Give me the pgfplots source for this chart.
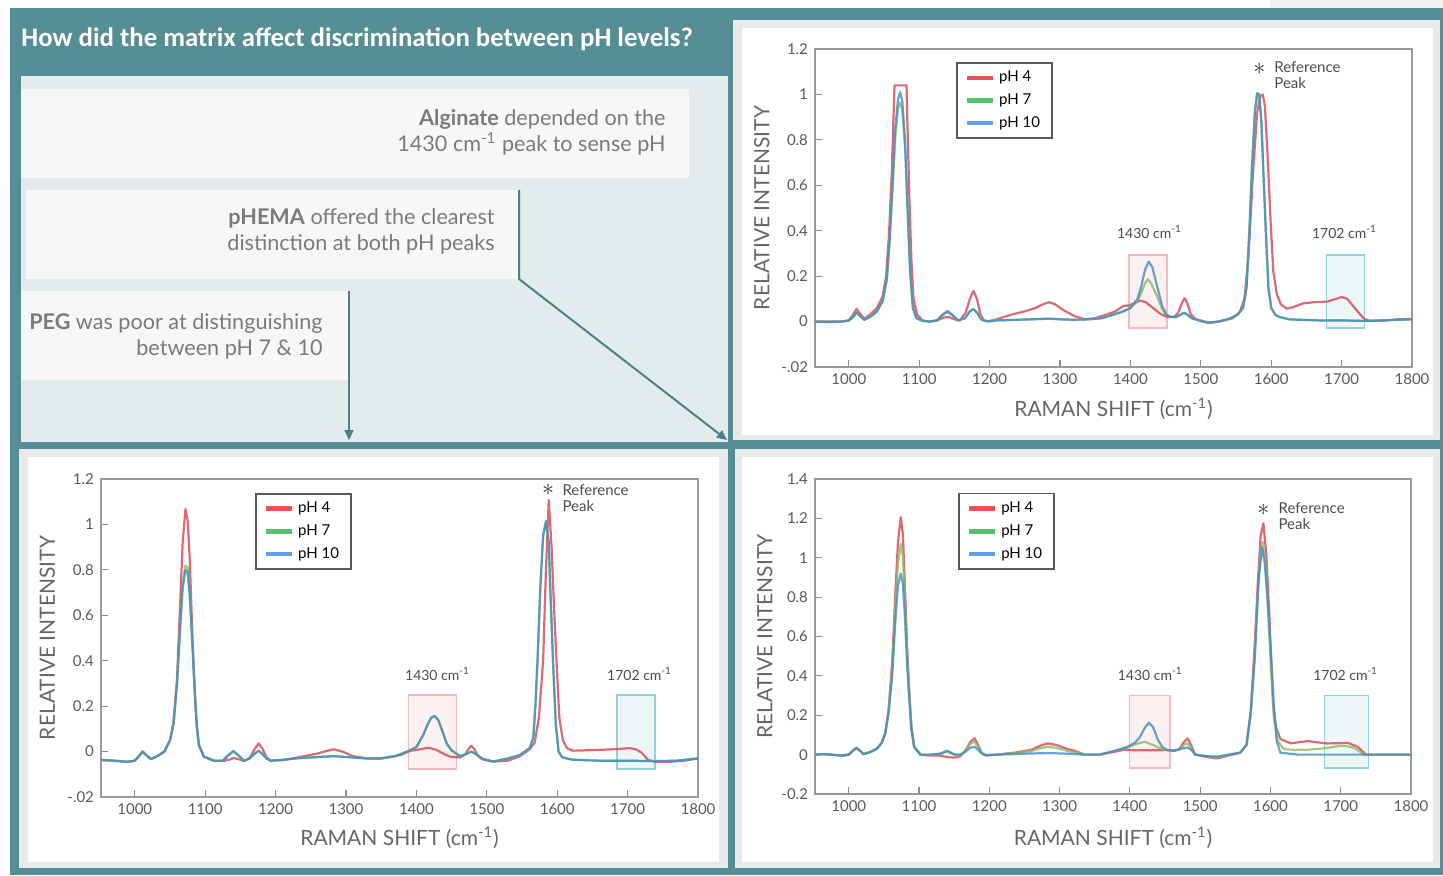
\documentclass[border=0pt]{standalone}
\usepackage{fontspec}
\setmainfont{Lato}
\newfontfamily\titlefont{Carlito}
\usepackage{pgfplots}
\pgfplotsset{compat=1.18}
\usetikzlibrary{arrows.meta}

\definecolor{teal0}{HTML}{568E96}
\definecolor{panelgray}{HTML}{E3EBEC}
\definecolor{boxwhite}{HTML}{F6F8F8}
\definecolor{frame0}{HTML}{E8E9E9}
\definecolor{txtgray}{HTML}{7A7A7A}
\definecolor{lgred}{HTML}{E52528}
\definecolor{lggreen}{HTML}{2DB34A}
\definecolor{lgblue}{HTML}{3B87E0}
\definecolor{plred}{HTML}{D9444E}
\definecolor{plgreen}{HTML}{8DBB5E}
\definecolor{plblue}{HTML}{3F8DCC}
\definecolor{pinkfill}{HTML}{FCF0F1}
\definecolor{pinkline}{HTML}{F4B9BF}
\definecolor{cyanfill}{HTML}{EEF6F7}
\definecolor{cyanline}{HTML}{8DD3DA}

\tikzset{anno/.style={font=\fontsize{7}{8}\selectfont, text=black!70}}

\pgfplotsset{
  ramanaxis/.style={
    scale only axis,
    xmin=952, xmax=1800,
    xtick={1000,1100,1200,1300,1400,1500,1600,1700,1800},
    xticklabels={1000,1100,1200,1300,1400,1500,1600,1700,1800},
    xtick pos=left, ytick pos=left,
    tick align=inside,
    major tick length=3.5pt,
    tick style={color=black!45, line width=0.6pt},
    axis line style={draw=black!40, line width=0.6pt},
    ticklabel style={font=\fontsize{7.5}{9}\selectfont, text=black!65},
    label style={font=\fontsize{10.5}{12}\selectfont, text=black!60},
    xlabel={RAMAN SHIFT (cm\textsuperscript{-1})},
    ylabel={RELATIVE INTENSITY},
    legend cell align=left,
    legend style={draw=black!65, line width=0.8pt, font=\fontsize{7.5}{9}\selectfont,
      inner xsep=4pt, inner ysep=2pt, row sep=0.5pt, anchor=north west},
    legend image code/.code={\draw[#1] (0pt,0pt) -- (13pt,0pt);},
    every axis plot/.append style={line width=1.1pt, opacity=0.8, line join=round},
  },
}

\begin{document}
\begin{tikzpicture}
\begin{scope}[x=0.5pt, y=-0.5pt]
  \useasboundingbox (0,0) rectangle (1443,875);
  \fill[white] (0,0) rectangle (1443,875);
  \fill[black!5] (1270,0) rectangle (1443,8);
  \fill[teal0] (10,8) rectangle (1443,875);
  \node[anchor=west, text=white, inner sep=0pt, font=\titlefont\bfseries\fontsize{13.4}{15}\selectfont]
    at (21,39) {How did the matrix affect discrimination between pH levels?};
  \fill[panelgray] (21,76) rectangle (728,442);
  \fill[boxwhite] (21,89) rectangle (689,178);
  \fill[boxwhite] (26,190) rectangle (519,279);
  \fill[boxwhite] (21,291) rectangle (349,380);
  \node[anchor=east, align=right, inner sep=0pt, text=txtgray, font=\fontsize{10.8}{13}\selectfont]
    at (666,132) {\textbf{Alginate} depended on the\\1430 cm\textsuperscript{-1} peak to sense pH};
  \node[anchor=east, align=right, inner sep=0pt, text=txtgray, font=\fontsize{10.8}{13}\selectfont]
    at (495,231) {\textbf{pHEMA} offered the clearest\\distinction at both pH peaks};
  \node[anchor=east, align=right, inner sep=0pt, text=txtgray, font=\fontsize{10.8}{13}\selectfont]
    at (323,336) {\textbf{PEG} was poor at distinguishing\\between pH~7 \& 10};
  \draw[teal0!90!black, line width=1pt, -{Triangle[length=5pt,width=4.5pt]}]
    (519,190) -- (519,279) -- (727,440);
  \draw[teal0!90!black, line width=1pt, -{Triangle[length=5pt,width=4.5pt]}]
    (349,291) -- (349,440);
  % chart panels
  \fill[frame0] (733,20) rectangle (1440,440);
  \fill[white] (742,28) rectangle (1433,435);
  \fill[frame0] (19,449) rectangle (728,868);
  \fill[white] (28,457) rectangle (719,862);
  \fill[frame0] (735,449) rectangle (1440,868);
  \fill[white] (742,457) rectangle (1433,862);
\end{scope}

% ---------- top right: alginate ----------
\begin{axis}[ramanaxis,
  at={(407.5pt,-183.5pt)}, anchor=south west,
  width=298.5pt, height=159pt,
  ymin=-0.2, ymax=1.2,
  ytick={-0.2,0,0.2,0.4,0.6,0.8,1,1.2},
  yticklabels={-.02,0,0.2,0.4,0.6,0.8,1,1.2},
  x label style={at={(axis description cs:0.5,-0.132)}, anchor=center},
  y label style={at={(axis description cs:-0.089,0.5)}, anchor=center, rotate=0},
  legend style={at={(axis description cs:0.236,0.959)}},
]
\fill[pinkfill, draw=pinkline, line width=0.6pt] (axis cs:1398,-0.028) rectangle (axis cs:1452,0.293);
\fill[cyanfill, draw=cyanline, line width=0.6pt] (axis cs:1678,-0.028) rectangle (axis cs:1733,0.293);
\addlegendimage{line width=2.2pt, color=lgred}\addlegendentry{pH 4}
\addlegendimage{line width=2.2pt, color=lggreen}\addlegendentry{pH 7}
\addlegendimage{line width=2.2pt, color=lgblue}\addlegendentry{pH 10}
\addplot[plred, forget plot] coordinates {
(952,0.0) (970,0.0) (990,0.0) (1000,0.005) (1006,0.03) (1011,0.056) (1016,0.035) (1022,0.012)
(1030,0.03) (1040,0.06) (1048,0.11) (1053,0.2) (1057,0.38) (1061,0.65) (1064,0.95) (1065,1.04)
(1082,1.04) (1083,0.9) (1086,0.55) (1089,0.26) (1092,0.1) (1097,0.03) (1105,0.005) (1115,0.0)
(1125,0.005) (1135,0.018) (1142,0.02) (1150,0.01) (1158,0.005) (1166,0.04) (1172,0.1) (1177,0.135)
(1182,0.1) (1187,0.03) (1192,0.005) (1200,0.0) (1215,0.015) (1230,0.03) (1250,0.045) (1265,0.06)
(1275,0.075) (1284,0.085) (1292,0.078) (1305,0.05) (1320,0.025) (1335,0.01) (1350,0.015) (1365,0.03)
(1378,0.044) (1390,0.069) (1397,0.07) (1405,0.08) (1414,0.092) (1422,0.085) (1432,0.06) (1442,0.035)
(1452,0.02) (1462,0.02) (1468,0.04) (1473,0.08) (1477,0.103) (1481,0.08) (1486,0.03) (1492,0.012)
(1505,0.0) (1515,-0.005) (1530,0.003) (1545,0.015) (1555,0.04) (1562,0.1) (1568,0.3) (1574,0.65)
(1580,0.92) (1584,0.99) (1588,1.0) (1591,0.95) (1595,0.72) (1599,0.45) (1603,0.22) (1608,0.12)
(1614,0.075) (1622,0.057) (1632,0.064) (1645,0.08) (1660,0.085) (1680,0.088) (1692,0.1) (1700,0.108)
(1708,0.1) (1716,0.07) (1724,0.04) (1732,0.012) (1740,0.003) (1760,0.005) (1780,0.01) (1800,0.012)
};
\addplot[plgreen, forget plot] coordinates {
(952,0.0) (970,-0.002) (990,0.0) (1000,0.005) (1006,0.02) (1011,0.04) (1016,0.025) (1022,0.008)
(1030,0.02) (1040,0.045) (1048,0.09) (1054,0.18) (1058,0.35) (1062,0.57) (1066,0.81) (1070,0.94)
(1073,0.965) (1076,0.93) (1080,0.76) (1084,0.44) (1087,0.22) (1091,0.06) (1096,0.015) (1105,0.003)
(1115,0.0) (1125,0.005) (1133,0.028) (1140,0.042) (1147,0.028) (1155,0.005) (1165,0.015) (1172,0.045)
(1177,0.055) (1182,0.04) (1188,0.01) (1195,0.002) (1210,0.005) (1240,0.008) (1270,0.011) (1285,0.013)
(1300,0.01) (1320,0.008) (1340,0.01) (1360,0.015) (1375,0.03) (1390,0.045) (1400,0.06) (1410,0.09)
(1416,0.13) (1421,0.17) (1425,0.186) (1430,0.165) (1438,0.11) (1445,0.055) (1451,0.028) (1458,0.02)
(1465,0.02) (1471,0.03) (1476,0.039) (1481,0.03) (1487,0.015) (1497,0.005) (1510,-0.005) (1525,0.0)
(1540,0.012) (1552,0.03) (1560,0.06) (1565,0.15) (1569,0.4) (1573,0.7) (1577,0.93) (1580,1.005)
(1583,1.0) (1586,0.88) (1589,0.65) (1592,0.42) (1596,0.15) (1600,0.06) (1606,0.03) (1612,0.02)
(1625,0.01) (1640,0.008) (1670,0.005) (1700,0.006) (1730,0.003) (1760,0.005) (1780,0.008) (1800,0.01)
};
\addplot[plblue, forget plot] coordinates {
(952,0.0) (970,-0.002) (990,0.0) (1000,0.005) (1006,0.02) (1011,0.04) (1016,0.025) (1022,0.008)
(1030,0.02) (1040,0.045) (1048,0.09) (1054,0.19) (1058,0.36) (1062,0.6) (1066,0.85) (1070,0.98)
(1073,1.01) (1076,0.97) (1080,0.79) (1084,0.46) (1087,0.23) (1091,0.06) (1096,0.015) (1105,0.003)
(1115,0.0) (1125,0.005) (1133,0.03) (1140,0.047) (1147,0.03) (1155,0.005) (1165,0.015) (1172,0.045)
(1177,0.055) (1182,0.04) (1188,0.01) (1195,0.002) (1210,0.005) (1240,0.008) (1270,0.011) (1285,0.013)
(1300,0.01) (1320,0.008) (1340,0.01) (1360,0.015) (1375,0.03) (1390,0.045) (1400,0.06) (1410,0.1)
(1415,0.15) (1421,0.23) (1426,0.264) (1431,0.24) (1438,0.155) (1445,0.07) (1451,0.03) (1458,0.02)
(1465,0.02) (1471,0.03) (1476,0.039) (1481,0.03) (1487,0.015) (1497,0.005) (1510,-0.005) (1525,0.0)
(1540,0.012) (1552,0.03) (1560,0.06) (1565,0.15) (1569,0.4) (1573,0.7) (1577,0.93) (1580,1.005)
(1583,1.0) (1586,0.88) (1589,0.65) (1592,0.42) (1596,0.15) (1600,0.06) (1606,0.03) (1612,0.02)
(1625,0.01) (1640,0.008) (1670,0.005) (1700,0.005) (1730,0.003) (1760,0.005) (1780,0.008) (1800,0.01)
};
\node[anno] at (axis cs:1427,0.395) {1430 cm\textsuperscript{-1}};
\node[anno] at (axis cs:1704,0.395) {1702 cm\textsuperscript{-1}};
\node[inner sep=0pt, text=black!80, font=\fontsize{12}{12}\selectfont] at (axis cs:1583,1.112) {$\ast$};
\node[anno, anchor=north west, align=left, inner sep=0pt, font=\fontsize{7.5}{8}\selectfont]
  at (axis cs:1604,1.148) {Reference\\Peak};
\end{axis}

% ---------- bottom left: PEG ----------
\begin{axis}[ramanaxis,
  at={(50.5pt,-398.5pt)}, anchor=south west,
  width=298.5pt, height=159pt,
  ymin=-0.2, ymax=1.2,
  ytick={-0.2,0,0.2,0.4,0.6,0.8,1,1.2},
  yticklabels={-.02,0,0.2,0.4,0.6,0.8,1,1.2},
  x label style={at={(axis description cs:0.5,-0.129)}, anchor=center},
  y label style={at={(axis description cs:-0.09,0.5)}, anchor=center, rotate=0},
  legend style={at={(axis description cs:0.258,0.956)}},
]
\fill[pinkfill, draw=pinkline, line width=0.6pt] (axis cs:1389,-0.077) rectangle (axis cs:1457,0.249);
\fill[cyanfill, draw=cyanline, line width=0.6pt] (axis cs:1685,-0.077) rectangle (axis cs:1739,0.249);
\addlegendimage{line width=2.2pt, color=lgred}\addlegendentry{pH 4}
\addlegendimage{line width=2.2pt, color=lggreen}\addlegendentry{pH 7}
\addlegendimage{line width=2.2pt, color=lgblue}\addlegendentry{pH 10}
\addplot[plred, forget plot] coordinates {
(952,-0.037) (970,-0.04) (990,-0.045) (1000,-0.04) (1006,-0.02) (1011,0.0) (1016,-0.015) (1023,-0.033)
(1032,-0.02) (1042,0.0) (1050,0.05) (1055,0.13) (1060,0.32) (1064,0.62) (1068,0.92) (1072,1.068)
(1075,1.02) (1078,0.85) (1082,0.5) (1085,0.28) (1088,0.12) (1091,0.03) (1098,-0.022) (1112,-0.04)
(1125,-0.042) (1135,-0.035) (1140,-0.028) (1147,-0.033) (1155,-0.042) (1163,-0.03) (1170,0.01) (1176,0.036)
(1181,0.015) (1187,-0.025) (1193,-0.04) (1210,-0.038) (1236,-0.023) (1260,-0.008) (1275,0.005) (1283,0.01)
(1295,0.0) (1310,-0.02) (1330,-0.03) (1350,-0.03) (1378,-0.015) (1392,0.004) (1405,0.01) (1417,0.017)
(1428,0.008) (1440,-0.012) (1448,-0.022) (1462,-0.026) (1470,-0.01) (1474,0.012) (1478,0.025) (1482,0.012)
(1487,-0.015) (1495,-0.035) (1509,-0.044) (1530,-0.04) (1547,-0.02) (1561,0.01) (1568,0.04) (1574,0.15)
(1580,0.4) (1584,0.8) (1588,1.108) (1592,0.9) (1596,0.6) (1599,0.4) (1603,0.15) (1608,0.05)
(1614,0.015) (1622,0.004) (1646,0.006) (1679,0.01) (1703,0.015) (1712,0.01) (1720,-0.005) (1729,-0.037)
(1740,-0.045) (1760,-0.045) (1780,-0.04) (1800,-0.03)
};
\addplot[plgreen, forget plot] coordinates {
(952,-0.037) (970,-0.04) (990,-0.045) (1000,-0.04) (1006,-0.02) (1011,0.0) (1016,-0.015) (1023,-0.033)
(1032,-0.02) (1042,0.0) (1050,0.05) (1055,0.12) (1060,0.3) (1064,0.53) (1068,0.74) (1072,0.82)
(1075,0.81) (1078,0.7) (1082,0.46) (1085,0.27) (1088,0.11) (1091,0.03) (1098,-0.022) (1112,-0.04)
(1125,-0.04) (1133,-0.017) (1140,0.0) (1147,-0.017) (1155,-0.04) (1163,-0.03) (1170,-0.01) (1176,0.004)
(1181,-0.01) (1187,-0.03) (1193,-0.04) (1210,-0.036) (1236,-0.028) (1260,-0.024) (1283,-0.02) (1310,-0.026)
(1330,-0.03) (1350,-0.03) (1370,-0.02) (1390,0.004) (1400,0.02) (1410,0.075) (1416,0.12) (1421,0.148)
(1426,0.155) (1431,0.138) (1437,0.09) (1443,0.036) (1450,0.005) (1462,-0.02) (1470,-0.012) (1478,0.0)
(1485,-0.012) (1492,-0.03) (1509,-0.044) (1530,-0.03) (1547,-0.015) (1561,0.016) (1566,0.06) (1569,0.2)
(1572,0.4) (1576,0.72) (1580,0.95) (1584,1.01) (1588,0.92) (1591,0.65) (1594,0.4) (1598,0.12)
(1602,0.0) (1607,-0.025) (1620,-0.035) (1632,-0.037) (1660,-0.04) (1700,-0.04) (1740,-0.042) (1770,-0.04)
(1800,-0.03)
};
\addplot[plblue, forget plot] coordinates {
(952,-0.037) (970,-0.04) (990,-0.045) (1000,-0.04) (1006,-0.02) (1011,0.0) (1016,-0.015) (1023,-0.033)
(1032,-0.02) (1042,0.0) (1050,0.05) (1055,0.12) (1060,0.3) (1064,0.52) (1068,0.72) (1072,0.8)
(1075,0.79) (1078,0.69) (1082,0.46) (1085,0.27) (1088,0.11) (1091,0.03) (1098,-0.022) (1112,-0.04)
(1125,-0.04) (1133,-0.015) (1140,0.003) (1147,-0.015) (1155,-0.04) (1163,-0.03) (1170,-0.01) (1176,0.004)
(1181,-0.01) (1187,-0.03) (1193,-0.04) (1210,-0.036) (1236,-0.028) (1260,-0.024) (1283,-0.02) (1310,-0.026)
(1330,-0.03) (1350,-0.03) (1370,-0.02) (1390,0.004) (1400,0.02) (1410,0.075) (1416,0.12) (1421,0.15)
(1426,0.157) (1431,0.14) (1437,0.09) (1443,0.036) (1450,0.005) (1462,-0.02) (1470,-0.012) (1478,0.0)
(1485,-0.012) (1492,-0.03) (1509,-0.044) (1530,-0.03) (1547,-0.015) (1561,0.016) (1566,0.06) (1569,0.2)
(1572,0.4) (1576,0.72) (1580,0.95) (1584,1.016) (1588,0.92) (1591,0.65) (1594,0.4) (1598,0.12)
(1602,0.0) (1607,-0.025) (1620,-0.035) (1632,-0.037) (1660,-0.04) (1700,-0.04) (1740,-0.042) (1770,-0.04)
(1800,-0.03)
};
\node[anno] at (axis cs:1430,0.342) {1430 cm\textsuperscript{-1}};
\node[anno] at (axis cs:1717,0.342) {1702 cm\textsuperscript{-1}};
\node[inner sep=0pt, text=black!80, font=\fontsize{12}{12}\selectfont] at (axis cs:1587,1.152) {$\ast$};
\node[anno, anchor=north west, align=left, inner sep=0pt, font=\fontsize{7.5}{8}\selectfont]
  at (axis cs:1607,1.179) {Reference\\Peak};
\end{axis}

% ---------- bottom right: pHEMA ----------
\begin{axis}[ramanaxis,
  at={(407.5pt,-397pt)}, anchor=south west,
  width=298pt, height=157.5pt,
  ymin=-0.2, ymax=1.4,
  ytick={-0.2,0,0.2,0.4,0.6,0.8,1,1.2,1.4},
  yticklabels={-0.2,0,0.2,0.4,0.6,0.8,1,1.2,1.4},
  x label style={at={(axis description cs:0.5,-0.14)}, anchor=center},
  y label style={at={(axis description cs:-0.084,0.5)}, anchor=center, rotate=0},
  legend style={at={(axis description cs:0.24,0.956)}},
]
\fill[pinkfill, draw=pinkline, line width=0.6pt] (axis cs:1399,-0.068) rectangle (axis cs:1457,0.30);
\fill[cyanfill, draw=cyanline, line width=0.6pt] (axis cs:1677,-0.068) rectangle (axis cs:1739,0.30);
\addlegendimage{line width=2.2pt, color=lgred}\addlegendentry{pH 4}
\addlegendimage{line width=2.2pt, color=lggreen}\addlegendentry{pH 7}
\addlegendimage{line width=2.2pt, color=lgblue}\addlegendentry{pH 10}
\addplot[plred, forget plot] coordinates {
(952,0.0) (965,0.003) (975,0.0) (990,-0.005) (1000,0.0) (1006,0.02) (1011,0.035) (1016,0.02)
(1021,0.003) (1030,0.012) (1040,0.03) (1047,0.06) (1052,0.11) (1057,0.24) (1062,0.48) (1066,0.8)
(1070,1.08) (1074,1.206) (1077,1.12) (1080,0.85) (1083,0.55) (1086,0.33) (1089,0.15) (1093,0.04)
(1102,0.0) (1115,-0.005) (1130,-0.005) (1140,-0.012) (1150,-0.015) (1158,-0.01) (1166,0.02) (1173,0.065)
(1179,0.083) (1184,0.05) (1189,0.01) (1195,-0.004) (1210,0.0) (1236,0.01) (1260,0.025) (1272,0.045)
(1283,0.057) (1295,0.05) (1310,0.03) (1321,0.02) (1336,0.0) (1357,0.0) (1379,0.015) (1392,0.025)
(1400,0.023) (1420,0.022) (1452,0.023) (1462,0.02) (1470,0.025) (1476,0.06) (1482,0.083) (1487,0.05)
(1493,0.0) (1510,-0.012) (1524,-0.019) (1540,-0.005) (1557,0.01) (1566,0.05) (1572,0.22) (1577,0.52)
(1582,0.87) (1586,1.11) (1590,1.175) (1594,1.02) (1598,0.74) (1601,0.48) (1604,0.25) (1608,0.14)
(1614,0.08) (1629,0.057) (1640,0.063) (1654,0.069) (1668,0.062) (1681,0.057) (1695,0.058) (1710,0.06)
(1724,0.04) (1736,0.0) (1750,0.0) (1780,0.0) (1800,0.0)
};
\addplot[plgreen, forget plot] coordinates {
(952,0.0) (965,0.003) (975,0.0) (990,-0.005) (1000,0.0) (1006,0.02) (1011,0.035) (1016,0.02)
(1021,0.003) (1030,0.012) (1040,0.03) (1047,0.06) (1052,0.11) (1057,0.23) (1062,0.45) (1066,0.74)
(1070,0.97) (1074,1.07) (1077,1.01) (1080,0.79) (1083,0.51) (1086,0.31) (1089,0.14) (1093,0.04)
(1102,0.0) (1115,0.0) (1130,0.003) (1140,0.015) (1150,0.0) (1158,-0.003) (1166,0.02) (1173,0.055)
(1179,0.066) (1184,0.04) (1189,0.01) (1195,-0.004) (1210,0.0) (1236,0.008) (1260,0.018) (1272,0.032)
(1283,0.04) (1295,0.035) (1310,0.02) (1321,0.012) (1336,0.0) (1357,0.0) (1379,0.02) (1395,0.035)
(1410,0.055) (1421,0.066) (1432,0.05) (1445,0.03) (1455,0.022) (1465,0.02) (1471,0.03) (1477,0.05)
(1482,0.058) (1487,0.035) (1493,0.0) (1510,-0.008) (1524,-0.012) (1540,-0.003) (1557,0.01) (1566,0.05)
(1572,0.2) (1577,0.48) (1582,0.82) (1586,1.03) (1589,1.08) (1593,0.97) (1597,0.7) (1601,0.42)
(1605,0.18) (1610,0.07) (1619,0.028) (1635,0.024) (1652,0.025) (1670,0.03) (1685,0.036) (1700,0.046)
(1710,0.042) (1719,0.035) (1727,0.015) (1733,0.0) (1760,0.0) (1800,0.0)
};
\addplot[plblue, forget plot] coordinates {
(952,0.0) (965,0.003) (975,0.0) (990,-0.005) (1000,0.0) (1006,0.02) (1011,0.035) (1016,0.02)
(1021,0.003) (1030,0.012) (1040,0.03) (1047,0.06) (1052,0.11) (1057,0.22) (1062,0.41) (1066,0.66)
(1070,0.86) (1074,0.92) (1077,0.87) (1080,0.7) (1083,0.46) (1086,0.29) (1089,0.13) (1093,0.04)
(1102,0.0) (1115,0.0) (1130,0.005) (1140,0.02) (1150,0.002) (1158,0.0) (1166,0.015) (1173,0.035)
(1179,0.04) (1184,0.025) (1189,0.005) (1195,-0.002) (1210,0.0) (1236,0.003) (1260,0.006) (1283,0.008)
(1310,0.005) (1336,0.0) (1357,0.0) (1379,0.02) (1395,0.037) (1407,0.06) (1414,0.088) (1421,0.135)
(1427,0.162) (1433,0.14) (1440,0.074) (1446,0.04) (1452,0.025) (1462,0.02) (1471,0.028) (1477,0.033)
(1482,0.037) (1487,0.025) (1493,0.0) (1510,-0.008) (1524,-0.01) (1540,0.0) (1557,0.01) (1566,0.05)
(1572,0.22) (1578,0.5) (1583,0.88) (1588,1.055) (1592,0.97) (1597,0.74) (1601,0.5) (1605,0.24)
(1609,0.07) (1614,0.01) (1640,0.0) (1680,0.0) (1720,0.0) (1760,0.0) (1800,0.0)
};
\node[anno] at (axis cs:1429,0.41) {1430 cm\textsuperscript{-1}};
\node[anno] at (axis cs:1707,0.41) {1702 cm\textsuperscript{-1}};
\node[inner sep=0pt, text=black!80, font=\fontsize{12}{12}\selectfont] at (axis cs:1590,1.245) {$\ast$};
\node[anno, anchor=north west, align=left, inner sep=0pt, font=\fontsize{7.5}{8}\selectfont]
  at (axis cs:1611,1.28) {Reference\\Peak};
\end{axis}
\end{tikzpicture}
\end{document}
